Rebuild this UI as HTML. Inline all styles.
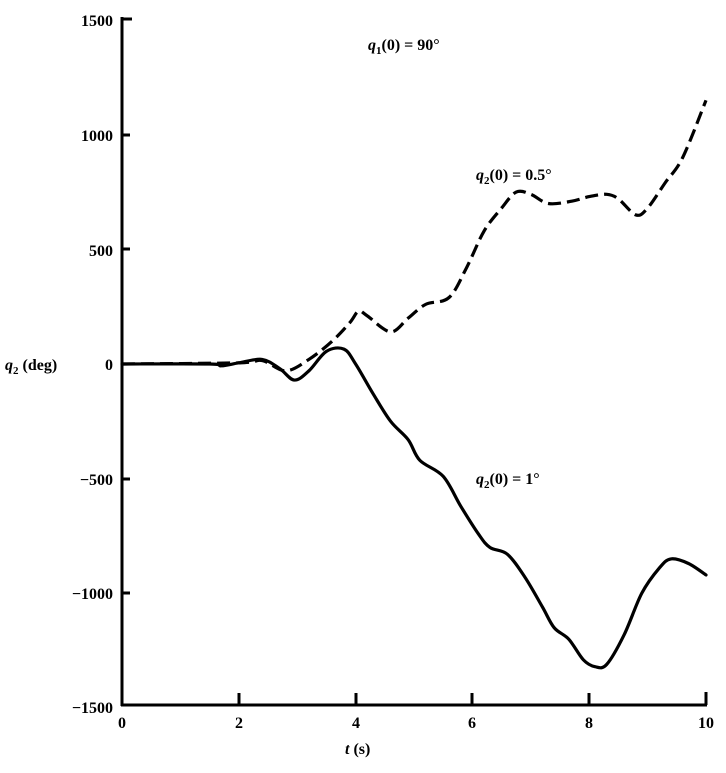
<!DOCTYPE html>
<html><head><style>
body{margin:0;background:#fff;}
svg text{font-family:"Liberation Serif",serif;font-size:16px;fill:#000;font-weight:bold}
</style></head><body>
<svg id="s" width="726" height="768" xmlns="http://www.w3.org/2000/svg">
<g stroke="#000" stroke-width="3" fill="none">
<line x1="122" y1="17" x2="122" y2="706"/>
<line x1="121" y1="705" x2="707" y2="705"/>
<line x1="122" y1="19" x2="132" y2="19"/>
<line x1="122" y1="135" x2="130" y2="135"/>
<line x1="122" y1="249" x2="130" y2="249"/>
<line x1="122" y1="479" x2="130" y2="479"/>
<line x1="122" y1="593" x2="130" y2="593"/>
<line x1="239" y1="705" x2="239" y2="693"/>
<line x1="356" y1="705" x2="356" y2="693"/>
<line x1="472" y1="705" x2="472" y2="693"/>
<line x1="589" y1="705" x2="589" y2="693"/>
<line x1="706" y1="705" x2="706" y2="692"/>
</g>
<g text-anchor="end">
<text x="113" y="26">1500</text>
<text x="113" y="141">1000</text>
<text x="113" y="256">500</text>
<text x="113" y="370">0</text>
<text x="113" y="485">−500</text>
<text x="113" y="599">−1000</text>
<text x="113" y="713">−1500</text>
</g>
<g text-anchor="middle">
<text x="122" y="728">0</text>
<text x="239" y="728">2</text>
<text x="356" y="728">4</text>
<text x="472" y="728">6</text>
<text x="589" y="728">8</text>
<text x="706" y="728">10</text>
</g>
<text x="5" y="370"><tspan font-style="italic">q</tspan><tspan font-size="11" dy="4">2</tspan><tspan dy="-4"> (deg)</tspan></text>
<text x="345" y="754"><tspan font-style="italic">t</tspan> (s)</text>
<text x="368" y="50"><tspan font-style="italic">q</tspan><tspan font-size="11" dy="4">1</tspan><tspan dy="-4">(0) = 90°</tspan></text>
<text x="476" y="180"><tspan font-style="italic">q</tspan><tspan font-size="11" dy="4">2</tspan><tspan dy="-4">(0) = 0.5°</tspan></text>
<text x="476" y="484"><tspan font-style="italic">q</tspan><tspan font-size="11" dy="4">2</tspan><tspan dy="-4">(0) = 1°</tspan></text>
<path id="p1" stroke="#000" stroke-width="3.2" fill="none" stroke-linejoin="round" stroke-linecap="round"/>
<path id="p2" stroke="#000" stroke-width="3.2" fill="none" stroke-dasharray="13,6" stroke-linejoin="round"/>
</svg>
<script>
const X=t=>122+t*58.4, Y=q=>364-q*0.2293;
const solid=[[0,0],[1.5,0],[1.7,-8],[2,5],[2.4,20],[2.7,-20],[2.95,-70],[3.2,-30],[3.5,55],[3.8,65],[4.0,0],[4.3,-130],[4.6,-250],[4.9,-330],[5.1,-420],[5.5,-490],[5.8,-620],[6.1,-740],[6.3,-800],[6.6,-830],[6.9,-930],[7.2,-1060],[7.4,-1150],[7.65,-1200],[7.9,-1290],[8.1,-1320],[8.3,-1310],[8.6,-1180],[8.9,-1000],[9.2,-890],[9.4,-850],[9.7,-870],[10,-920]];
const dash=[[0,0],[2,5],[2.4,15],[2.8,-30],[3.2,20],[3.6,100],[3.9,180],[4.05,230],[4.2,210],[4.6,140],[4.9,200],[5.2,260],[5.6,290],[5.9,420],[6.2,580],[6.5,680],[6.75,750],[7.0,740],[7.3,700],[7.7,710],[8.0,730],[8.3,740],[8.5,720],[8.8,650],[9.0,680],[9.3,790],[9.6,900],[10,1150]];
function path(d){const p=d.map(a=>[X(a[0]),Y(a[1])]);let s="M"+p[0][0]+","+p[0][1];
for(let i=0;i<p.length-1;i++){const p0=p[Math.max(0,i-1)],p1=p[i],p2=p[i+1],p3=p[Math.min(p.length-1,i+2)];
s+=` C${p1[0]+(p2[0]-p0[0])/6},${p1[1]+(p2[1]-p0[1])/6} ${p2[0]-(p3[0]-p1[0])/6},${p2[1]-(p3[1]-p1[1])/6} ${p2[0]},${p2[1]}`;}return s;}
document.getElementById("p1").setAttribute("d",path(solid));
document.getElementById("p2").setAttribute("d",path(dash));
</script>
</body></html>
